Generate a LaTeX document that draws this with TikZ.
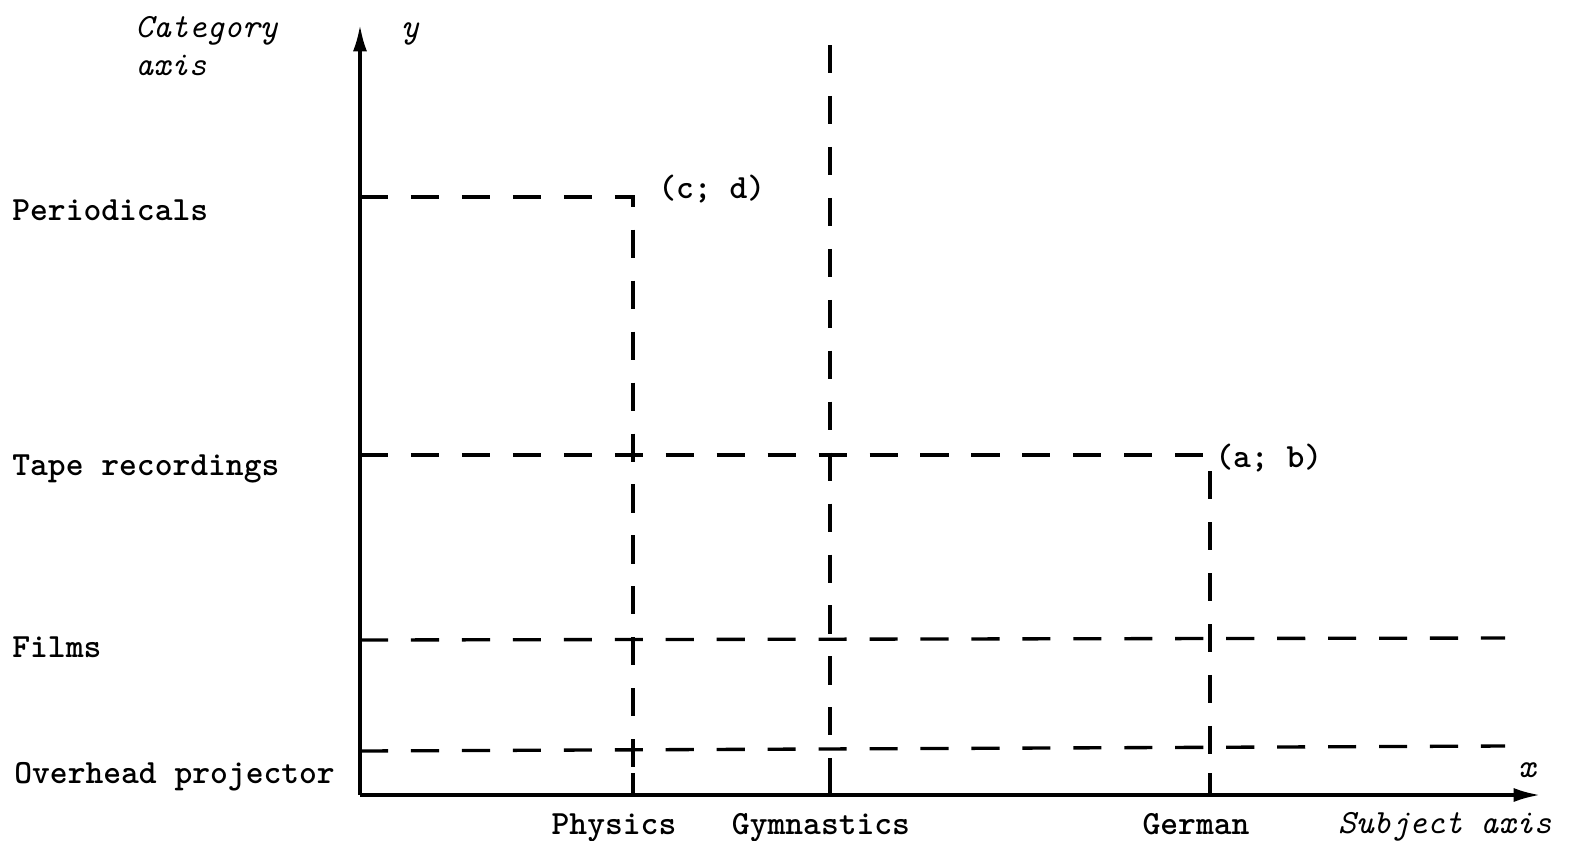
\documentclass[tikz,border=0pt]{standalone}
\usepackage{fontspec}
\usetikzlibrary{arrows.meta}
\begin{document}
\begin{tikzpicture}[x=0.02cm,y=-0.02cm,
  lbl/.style={font=\fontsize{19.3}{22}\selectfont\ttfamily\bfseries, inner sep=0pt},
  ital/.style={font=\fontsize{19.3}{22}\selectfont\ttfamily\itshape, inner sep=0pt},
  axisline/.style={line width=1.8pt, -{Latex[length=15pt,width=8pt]}},
  gridline/.style={line width=1.9pt, dash pattern=on 16pt off 13pt},
  tick/.style={line width=1.9pt}]
\useasboundingbox (0,0) rectangle (1576,840);
% axes
\coordinate (O) at (360,795);
\coordinate (ytip) at (360,25);
\coordinate (xtip) at (1540,795);
\draw[axisline] (O) -- (ytip);
\draw[axisline] (O) -- (xtip);
% grid coordinates
\coordinate (perL) at (360,197);
\coordinate (perR) at (633,197);
\coordinate (physB) at (633,795);
\coordinate (gymT) at (830,45);
\coordinate (gymB) at (830,795);
\coordinate (tapeL) at (360,455);
\coordinate (tapeR) at (1210,455);
\coordinate (gerB) at (1210,795);
\coordinate (filmL) at (360,640);
\coordinate (filmR) at (1505,638);
\coordinate (ohpL) at (360,751);
\coordinate (ohpR) at (1505,746);
% dashed lines
\draw[gridline] (perL) -- (perR) -- (physB);
\draw[gridline] (gymT) -- (gymB);
\draw[gridline] (tapeL) -- (tapeR) -- (gerB);
\draw[gridline] (filmL) -- (filmR);
\draw[gridline] (ohpL) -- (ohpR);
% ticks
\draw[tick] (physB) -- ++(0,-22);
\draw[tick] (gymB) -- ++(0,-22);
\draw[tick] (gerB) -- ++(0,-22);
% labels
\node[lbl, anchor=base west] (per) at (12,220) {Periodicals};
\node[lbl, anchor=base west] (tape) at (12,475) {Tape recordings};
\node[lbl, anchor=base west] (films) at (12,657) {Films};
\node[lbl, anchor=base west] (ohp) at (14,783) {Overhead projector};
\node[ital, anchor=base west] (cat) at (135,37) {Category};
\node[ital, anchor=base west] (ax) at (135,75) {axis};
\node[ital, anchor=base] (ylab) at (410,37) {y};
\node[ital, anchor=base] (xlab) at (1527,777) {x};
\node[ital, anchor=base east] (subj) at (1552,833) {Subject axis};
\node[lbl, anchor=base] (phys) at (614,834) {Physics};
\node[lbl, anchor=base] (gym) at (821,834) {Gymnastics};
\node[lbl, anchor=base] (ger) at (1196,834) {German};
\node[lbl, anchor=base west] (cd) at (658,198) {(c; d)};
\node[lbl, anchor=base west] (ab) at (1215,467) {(a; b)};
\end{tikzpicture}
\end{document}
